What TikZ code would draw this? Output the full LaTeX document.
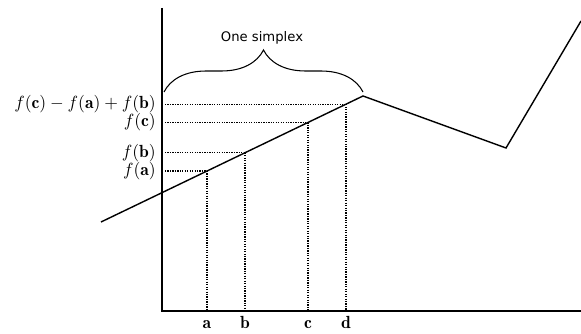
\documentclass[tikz,border=0pt]{standalone}
\usepackage{fontspec}
\newfontfamily\simplexfont{DejaVu Sans}
\usetikzlibrary{decorations.pathreplacing}
\tikzset{
  guide/.style={line width=0.75pt, dash pattern=on 0.7pt off 0.7pt},
  curve/.style={line width=0.8pt}
}
\begin{document}
\begin{tikzpicture}[x=0.02cm, y=-0.02cm]
  \useasboundingbox (0,0) rectangle (581,334);
  % Draw axes
  \coordinate (top) at (162,8);
  \coordinate (origin) at (162,311);
  \coordinate (right) at (581,311);
  \draw[line width=1.1pt] (top) -- (origin) -- (right);
  % Draw the function
  \coordinate (start) at (101,222);
  \coordinate (peak) at (363,96);
  \coordinate (valley) at (506,148);
  \coordinate (end) at (581,21);
  \draw[curve] (start) -- (peak) -- (valley) -- (end);
  % Mark points on the function
  \foreach \x/\y/\name in {207/171/a, 245/152.7/b, 308/122.4/c, 346/104.2/d} {
    \coordinate (\name) at (\x,\y);
    \coordinate (\name base) at (\x,311);
    \draw[guide] (\name) -- (\name base);
    \node[anchor=base] (lbl\name) at (\x,328) {$\mathbf{\name}$};
  }
  % Levels on the vertical axis
  \foreach \p/\y/\name in {a/171/$f(\mathbf{a})$, b/152.7/$f(\mathbf{b})$, c/122.4/$f(\mathbf{c})$, d/104.2/$f(\mathbf{c})-f(\mathbf{a})+f(\mathbf{b})$} {
    \coordinate (lev\p) at (165,\y);
    \draw[guide] (lev\p) -- (\p);
    \node[left] (val\p) at (162,\y) {\name};
  }
  % Brace over one simplex
  \coordinate (braceL) at (164,92);
  \coordinate (braceR) at (363,92);
  \draw[decorate, decoration={brace, amplitude=0.84cm}, line width=0.6pt] (braceL) -- (braceR);
  \node (simplex) at (262,38) {\simplexfont\fontsize{7.5}{9}\selectfont One simplex};

\end{tikzpicture}
\end{document}
